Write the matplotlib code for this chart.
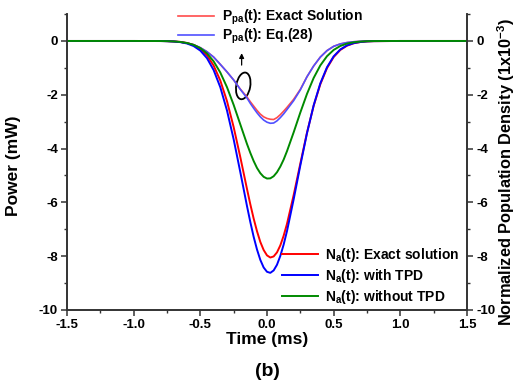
import matplotlib
matplotlib.use("Agg")
import matplotlib.pyplot as plt
from matplotlib.patches import Ellipse
from matplotlib.transforms import ScaledTranslation
from matplotlib.ticker import MultipleLocator, FormatStrFormatter

plt.rcParams['font.family'] = ['Liberation Sans', 'DejaVu Sans']
plt.rcParams['font.weight'] = 'bold'
plt.rcParams['axes.unicode_minus'] = False
plt.rcParams['mathtext.fontset'] = 'custom'
plt.rcParams['mathtext.rm'] = 'Liberation Sans:bold'
plt.rcParams['mathtext.it'] = 'Liberation Sans:bold'
plt.rcParams['mathtext.bf'] = 'Liberation Sans:bold'

# time axis (ms)
t = [-1.5, -1.0, -0.8, -0.75, -0.7, -0.65, -0.6, -0.55, -0.5, -0.45, -0.4, -0.35, -0.3, -0.25, -0.2, -0.15,
     -0.125, -0.1, -0.075, -0.05, -0.025, 0.0, 0.025, 0.05, 0.075, 0.1, 0.125,
     0.15, 0.2, 0.25, 0.3, 0.35, 0.4, 0.45, 0.5, 0.55, 0.6, 0.65, 0.7, 0.75, 0.8, 1.0, 1.5]

# power curves (mW), left axis
ppa_exact = [0, 0, -0.005, -0.01, -0.02, -0.04, -0.08, -0.14, -0.25, -0.40, -0.60, -0.87, -1.15, -1.45, -1.79, -2.08,
             -2.26, -2.42, -2.58, -2.72, -2.82, -2.88, -2.91, -2.92, -2.85, -2.74, -2.61,
             -2.47, -2.17, -1.80, -1.33, -0.93, -0.60, -0.36, -0.20, -0.11, -0.06, -0.03, -0.015, -0.007, -0.003, 0, 0]
ppa_eq28 = [0, 0, -0.005, -0.01, -0.02, -0.04, -0.08, -0.14, -0.25, -0.40, -0.60, -0.87, -1.15, -1.45, -1.80, -2.12,
            -2.32, -2.50, -2.67, -2.82, -2.94, -3.02, -3.06, -3.05, -2.97, -2.85, -2.71,
            -2.55, -2.22, -1.82, -1.33, -0.93, -0.60, -0.36, -0.20, -0.11, -0.06, -0.03, -0.015, -0.007, -0.003, 0, 0]

# population density (1e-3), right axis
na_exact = [0, 0, -0.002, -0.006, -0.015, -0.035, -0.076, -0.154, -0.295, -0.535, -0.914, -1.472, -2.236, -3.20, -4.32, -5.50,
            -6.07, -6.60, -7.07, -7.47, -7.77, -7.97, -8.05, -8.01, -7.86, -7.60, -7.24,
            -6.80, -5.73, -4.56, -3.41, -2.41, -1.61, -1.01, -0.598, -0.334, -0.176, -0.087, -0.041, -0.018, -0.008, 0, 0]
na_tpd = [0, 0, -0.003, -0.008, -0.019, -0.044, -0.094, -0.189, -0.358, -0.640, -1.082, -1.721, -2.583, -3.655, -4.877, -6.135,
          -6.73, -7.278, -7.75, -8.137, -8.42, -8.58, -8.62, -8.53, -8.32, -7.99, -7.57,
          -7.07, -5.89, -4.63, -3.43, -2.395, -1.577, -0.979, -0.573, -0.316, -0.165, -0.081, -0.037, -0.016, -0.007, 0, 0]
na_notpd = [0, 0, -0.003, -0.007, -0.017, -0.036, -0.075, -0.145, -0.266, -0.462, -0.758, -1.174, -1.718, -2.375, -3.102, -3.828,
            -4.16, -4.462, -4.72, -4.915, -5.05, -5.114, -5.107, -5.028, -4.88, -4.67, -4.41,
            -4.098, -3.398, -2.661, -1.969, -1.376, -0.909, -0.567, -0.334, -0.186, -0.098, -0.049, -0.023, -0.010, -0.004, 0, 0]

yTicks = [0, -2, -4, -6, -8, -10]
spineColor = '#333333'

fig = plt.figure(figsize=(5.16, 3.81), dpi=100)
ax = fig.add_axes([0.1298, 0.1864, 0.7752, 0.7767])
ax2 = ax.twinx()

lp1, = ax.plot(t, ppa_exact, color='#ff4c4c', lw=1.2, label='P$_{pa}$(t): Exact Solution')
lp2, = ax.plot(t, ppa_eq28, color='#5050ff', lw=1.2, label='P$_{pa}$(t): Eq.(28)')
ln1, = ax2.plot(t, na_exact, color='#ff0000', lw=1.4, label='N$_a$(t): Exact solution')
ln2, = ax2.plot(t, na_tpd, color='#0000ff', lw=1.4, label='N$_a$(t): with TPD')
ln3, = ax2.plot(t, na_notpd, color='#008a00', lw=1.4, label='N$_a$(t): without TPD')

for a in (ax, ax2):
    a.set_xlim(-1.5, 1.5)
    a.set_ylim(-10, 1)
    a.spines['top'].set_visible(False)
    for s in a.spines.values():
        s.set_color(spineColor)
        s.set_linewidth(1.2)
    a.set_yticks(yTicks)
    a.yaxis.set_minor_locator(MultipleLocator(1))
    a.yaxis.set_major_formatter(FormatStrFormatter('%d'))
    a.tick_params(which='both', direction='out', color=spineColor, labelsize=9.5, pad=2.5)
    a.tick_params(which='major', length=4, width=1.1)
    a.tick_params(which='minor', length=2.5, width=1.0)

ax.xaxis.set_major_locator(MultipleLocator(0.5))
ax.xaxis.set_minor_locator(MultipleLocator(0.25))
ax.xaxis.set_major_formatter(FormatStrFormatter('%.1f'))

ax.set_xlabel('Time (ms)', fontsize=12.5, fontweight='bold', labelpad=1)
ax.set_ylabel('Power (mW)', fontsize=12.5, fontweight='bold')
ax.yaxis.set_label_coords(-0.115, 0.486)
ax2.set_ylabel('Normalized Population Density (1x10$^{-3}$)', fontsize=11.8, fontweight='bold')
ax2.yaxis.set_label_coords(1.07, 0.465)
fig.text(0.5175, 1 - 371 / 381, '(b)', fontsize=14, fontweight='bold', ha='center', va='center')

leg1 = ax2.legend(handles=[lp1, lp2], loc='upper left', bbox_to_anchor=(0.2775, 1.02),
                  frameon=False, fontsize=10, handlelength=2.6, handletextpad=0.55,
                  labelspacing=-0.05, borderpad=0, borderaxespad=0)
ax2.add_artist(leg1)
ax2.legend(handles=[ln1, ln2, ln3], loc='upper left', bbox_to_anchor=(0.5375, 0.215),
           frameon=False, fontsize=10, handlelength=2.6, handletextpad=0.5,
           labelspacing=0.2, borderpad=0, borderaxespad=0)

# ellipse marking the crossing of the two P_pa curves, plus arrow
trans = fig.dpi_scale_trans + ScaledTranslation(-0.178, -1.67, ax.transData)
ax.add_patch(Ellipse((0, 0), 0.14, 0.27, angle=-10, transform=trans,
                     fill=False, ec='black', lw=1.3))
ax.annotate('', xy=(-0.19, -0.35), xytext=(-0.19, -1.0),
            arrowprops=dict(arrowstyle='-|>', color='black', lw=0.9, mutation_scale=7))

fig.savefig('out.png', dpi=100)
